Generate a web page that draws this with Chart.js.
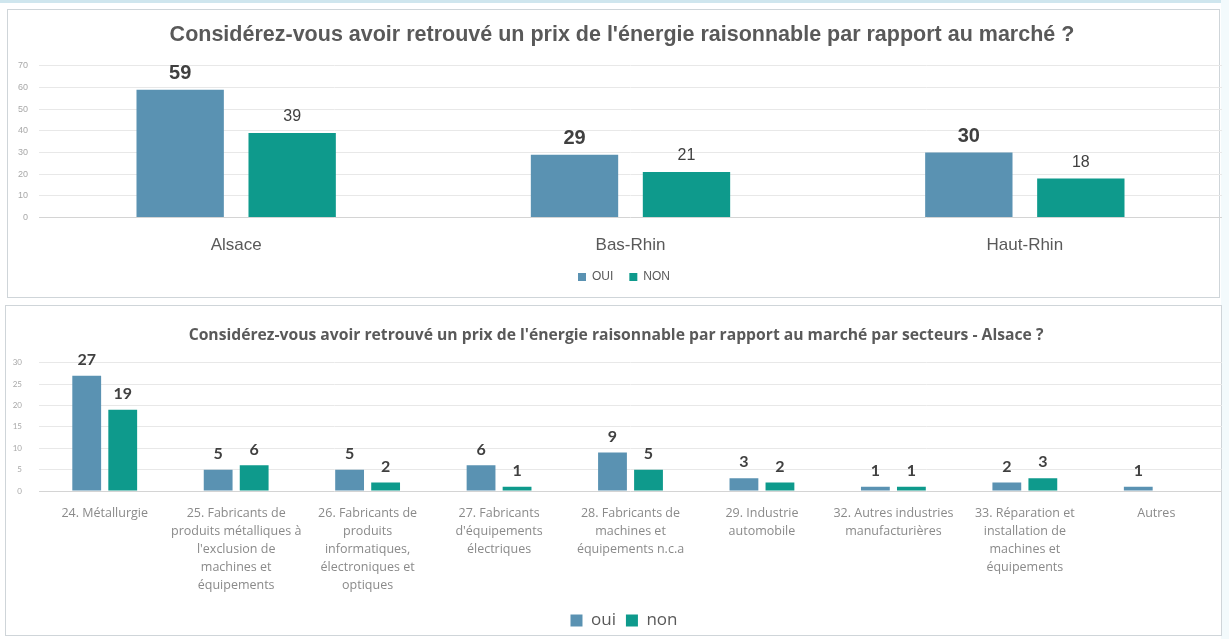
<!DOCTYPE html>
<html>
<head>
<meta charset="utf-8">
<script src="https://cdn.jsdelivr.net/npm/chart.js@4.4.1/dist/chart.umd.min.js"></script>
<style>
  html, body { margin: 0; padding: 0; background: #ffffff; }
  body { position: relative; width: 1229px; height: 639px; overflow: hidden; }
  .strip { position: absolute; left: 0; top: 0; width: 1229px; height: 3px; background: #cfe6ee; }
  .rstrip { position: absolute; right: 0; top: 0; width: 8px; height: 639px; background: #f3fafc; }
  .panel { position: absolute; border: 1px solid #cfd5d9; background: #ffffff; }
  #p1 { left: 7px; top: 9px; width: 1211px; height: 287px; }
  #p2 { left: 5px; top: 305px; width: 1215px; height: 329px; }
  canvas { position: absolute; left: 0; }
  #c1 { top: 0; }
  #c2 { top: 300px; }
</style>
</head>
<body>
<div class="strip"></div>
<div class="rstrip"></div>
<div class="panel" id="p1"></div>
<div class="panel" id="p2"></div>
<canvas id="c1" width="1229" height="300"></canvas>
<canvas id="c2" width="1229" height="339"></canvas>
<script>
// ---------- data ----------
const regionCategories = ['Alsace', 'Bas-Rhin', 'Haut-Rhin'];
const regionOui = [59, 29, 30];
const regionNon = [39, 21, 18];
const regionTicks = [0, 10, 20, 30, 40, 50, 60, 70];
const regionTitle = "Considérez-vous avoir retrouvé un prix de l'énergie raisonnable par rapport au marché ?";

const sectorCategories = [
  ['24. Métallurgie'],
  ['25. Fabricants de', 'produits métalliques à', "l'exclusion de", 'machines et', 'équipements'],
  ['26. Fabricants de', 'produits', 'informatiques,', 'électroniques et', 'optiques'],
  ['27. Fabricants', "d'équipements", 'électriques'],
  ['28. Fabricants de', 'machines et', 'équipements n.c.a'],
  ['29. Industrie', 'automobile'],
  ['32. Autres industries', 'manufacturières'],
  ['33. Réparation et', 'installation de', 'machines et', 'équipements'],
  ['Autres']
];
const sectorOui = [27, 5, 5, 6, 9, 3, 1, 2, 1];
const sectorNon = [19, 6, 2, 1, 5, 2, 1, 3, null];
const sectorTicks = [0, 5, 10, 15, 20, 25, 30];
const sectorTitle = "Considérez-vous avoir retrouvé un prix de l'énergie raisonnable par rapport au marché par secteurs - Alsace ?";

// ---------- styles ----------
const OUI_COLOR = '#5a92b2';
const NON_COLOR = '#0e9a8c';

const valueLabels = {
  id: 'valueLabels',
  afterDatasetsDraw(chart, args, opts) {
    const ctx = chart.ctx;
    chart.data.datasets.forEach((ds, i) => {
      const meta = chart.getDatasetMeta(i);
      meta.data.forEach((bar, j) => {
        const v = ds.data[j];
        if (v === null || v === undefined) return;
        ctx.save();
        ctx.font = opts.fonts[i];
        ctx.fillStyle = opts.color;
        ctx.textAlign = 'center';
        ctx.textBaseline = 'middle';
        ctx.fillText(String(v), bar.x, bar.y - opts.offset);
        ctx.restore();
      });
    });
  }
};

// nudges the title and legend blocks horizontally after layout
const shiftBlocks = {
  id: 'shiftBlocks',
  afterLayout(chart, args, opts) {
    if (chart.titleBlock && opts.title) { chart.titleBlock.left += opts.title; chart.titleBlock.right += opts.title; }
    if (chart.legend && opts.legend) { chart.legend.left += opts.legend; chart.legend.right += opts.legend; }
  }
};

function makeChart(id, cfg) {
  const ticksList = cfg.ticks;
  return new Chart(document.getElementById(id), {
    type: 'bar',
    data: {
      labels: cfg.labels,
      datasets: [
        { label: cfg.names[0], data: cfg.oui, backgroundColor: OUI_COLOR, categoryPercentage: cfg.catPct, barPercentage: cfg.barPct },
        { label: cfg.names[1], data: cfg.non, backgroundColor: NON_COLOR, categoryPercentage: cfg.catPct, barPercentage: cfg.barPct }
      ]
    },
    plugins: [valueLabels, shiftBlocks],
    options: {
      responsive: false,
      animation: false,
      layout: { padding: { left: cfg.leftPad, right: 7, top: 0, bottom: cfg.bottomPad } },
      plugins: {
        tooltip: { enabled: false },
        title: {
          display: true,
          text: cfg.title,
          color: '#595959',
          font: cfg.titleFont,
          padding: cfg.titlePad
        },
        legend: {
          display: true,
          position: 'bottom',
          labels: {
            color: '#595959',
            font: cfg.legendFont,
            boxWidth: cfg.legendBox,
            boxHeight: cfg.legendBox,
            padding: cfg.legendPad
          }
        },
        valueLabels: { fonts: cfg.valueFonts, color: '#404040', offset: cfg.valueOffset },
        shiftBlocks: cfg.shift
      },
      scales: {
        x: {
          grid: { display: false, drawTicks: false },
          border: { display: false },
          ticks: {
            color: cfg.xColor,
            font: cfg.xFont,
            padding: cfg.xPad,
            maxRotation: 0,
            autoSkip: false
          },
          afterFit(scale) { scale.height += cfg.xExtra; }
        },
        y: {
          min: 0,
          max: ticksList[ticksList.length - 1],
          afterBuildTicks(scale) { scale.ticks = ticksList.map(v => ({ value: v })); },
          grid: {
            drawTicks: false,
            color: (c) => (c.tick && c.tick.value === 0 ? '#d4d4d4' : '#e8e8e8')
          },
          border: { display: false },
          ticks: { color: '#a8a8a8', font: cfg.yFont, padding: cfg.yPad },
          afterFit(scale) { scale.width = 39 - cfg.leftPad; }
        }
      }
    }
  });
}

makeChart('c1', {
  labels: regionCategories,
  oui: regionOui,
  non: regionNon,
  ticks: regionTicks,
  names: ['OUI', 'NON'],
  title: regionTitle,
  titleFont: { family: "'Liberation Sans', Arial, sans-serif", size: 21.5, weight: 'bold', lineHeight: 1.2 },
  titlePad: { top: 22, bottom: 18 },
  catPct: 0.568,
  barPct: 0.78,
  legendFont: { family: "'Liberation Sans', Arial, sans-serif", size: 12 },
  legendBox: 8,
  legendPad: 16,
  valueFonts: ["bold 20px 'Liberation Sans', Arial, sans-serif", "16px 'Liberation Sans', Arial, sans-serif"],
  valueOffset: 16,
  xColor: '#595959',
  xFont: { family: "'Liberation Sans', Arial, sans-serif", size: 17, lineHeight: 1.2 },
  xPad: 18,
  xExtra: -19,
  yFont: { family: "'Liberation Sans', Arial, sans-serif", size: 9 },
  yPad: 11,
  leftPad: 0,
  shift: { title: 11, legend: 13 },
  bottomPad: 7
});

makeChart('c2', {
  labels: sectorCategories,
  oui: sectorOui,
  non: sectorNon,
  ticks: sectorTicks,
  names: ['oui', 'non'],
  title: sectorTitle,
  titleFont: { family: "'Open Sans', Lato, sans-serif", size: 15.7, weight: 'bold', lineHeight: 1.2 },
  titlePad: { top: 26, bottom: 18 },
  catPct: 0.548,
  barPct: 0.8,
  legendFont: { family: "'Open Sans', Lato, sans-serif", size: 17, lineHeight: 1 },
  legendBox: 12,
  legendPad: 10,
  valueFonts: ["bold 16px Lato, 'Open Sans', sans-serif", "bold 16px Lato, 'Open Sans', sans-serif"],
  valueOffset: 16,
  xColor: '#8a8a8a',
  xFont: { family: "'Open Sans', Lato, sans-serif", size: 12.5, lineHeight: 18 / 12.5 },
  xPad: 13,
  xExtra: -5,
  yFont: { family: "Lato, 'Open Sans', sans-serif", size: 8 },
  yPad: 17,
  leftPad: 10,
  shift: { title: 0, legend: 8 },
  bottomPad: 0
});
</script>
</body>
</html>
